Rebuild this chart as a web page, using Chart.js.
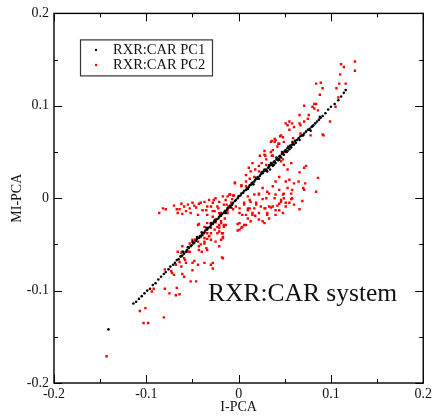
<!DOCTYPE html>
<html>
<head>
<meta charset="utf-8">
<title>RXR:CAR system</title>
<script src="https://cdn.jsdelivr.net/npm/chart.js@4.4.1/dist/chart.umd.min.js"></script>
<style>
  html, body { margin: 0; padding: 0; background: #fff; }
  canvas { display: block; }
</style>
</head>
<body>
<canvas id="pcaChart" width="435" height="418"></canvas>
<script>
// axis ticks
const xTickValues = [-0.2, -0.1, 0, 0.1, 0.2];
const xTickLabels = ['-0.2', '-0.1', '0', '0.1', '0.2'];
const yTickValues = [-0.2, -0.1, 0, 0.1, 0.2];
const yTickLabels = ['-0.2', '-0.1', '0', '0.1', '0.2'];
const minorTickValues = [-0.15, -0.05, 0.05, 0.15];

const seriesNames = ['RXR:CAR PC1', 'RXR:CAR PC2'];

// PC1 points [I-PCA, MI-PCA]
const pc1 = [
  [-0.141,-0.142],
  [-0.114,-0.114],[-0.111,-0.112],[-0.108,-0.109],[-0.105,-0.106],[-0.102,-0.103],[-0.099,-0.100],
  [-0.096,-0.098],[-0.093,-0.094],[-0.090,-0.092],[-0.087,-0.088],[-0.084,-0.085],[-0.081,-0.082],
  [-0.079,-0.080],[-0.076,-0.077],[-0.074,-0.074],[-0.071,-0.072],[-0.069,-0.070],[-0.067,-0.067],
  [-0.065,-0.066],[-0.063,-0.063],[-0.061,-0.062],[-0.059,-0.060],[-0.057,-0.058],[-0.056,-0.056],
  [-0.054,-0.054],[-0.052,-0.052],[-0.051,-0.051],[-0.049,-0.049],[-0.048,-0.048],[-0.046,-0.046],
  [-0.045,-0.044],[-0.043,-0.043],[-0.042,-0.041],[-0.040,-0.040],[-0.039,-0.038],[-0.037,-0.037],
  [-0.036,-0.035],[-0.034,-0.034],[-0.033,-0.032],[-0.031,-0.031],[-0.030,-0.029],[-0.028,-0.028],
  [-0.027,-0.026],[-0.025,-0.025],[-0.024,-0.023],[-0.022,-0.022],[-0.021,-0.020],[-0.019,-0.019],
  [-0.018,-0.017],[-0.016,-0.016],[-0.015,-0.014],[-0.013,-0.013],[-0.012,-0.011],[-0.010,-0.010],
  [-0.009,-0.008],[-0.007,-0.007],[-0.006,-0.005],[-0.004,-0.003],[-0.003,-0.002],[-0.001,0.000],
  [0.000,0.002],[0.002,0.003],[0.003,0.005],[0.005,0.006],[0.006,0.008],[0.008,0.009],
  [0.009,0.011],[0.011,0.012],[0.012,0.014],[0.014,0.015],[0.015,0.017],[0.017,0.018],
  [0.018,0.020],[0.020,0.021],[0.021,0.023],[0.023,0.024],[0.024,0.026],[0.026,0.027],
  [0.027,0.029],[0.029,0.030],[0.030,0.031],[0.032,0.033],[0.033,0.034],[0.035,0.036],
  [0.036,0.037],[0.038,0.039],[0.039,0.040],[0.041,0.042],[0.042,0.043],[0.044,0.045],
  [0.045,0.046],[0.047,0.048],[0.048,0.049],[0.050,0.051],[0.051,0.052],[0.053,0.054],
  [0.054,0.055],[0.056,0.057],[0.058,0.058],[0.059,0.060],[0.061,0.062],[0.063,0.063],
  [0.065,0.065],[0.067,0.067],[0.069,0.068],[0.071,0.070],[0.073,0.072],[0.075,0.074],
  [0.077,0.075],[0.079,0.077],[0.081,0.079],[0.083,0.081],[0.085,0.083],[0.087,0.085],
  [0.089,0.087],[0.091,0.089],[0.094,0.092],[0.097,0.096],[0.100,0.099],[0.104,0.102],
  [0.108,0.106],[0.111,0.110],[0.114,0.114],[0.116,0.117],
  [0.031,0.029],[0.034,0.031],[0.037,0.035],[0.040,0.038],[0.043,0.041],[0.046,0.044],
  [0.049,0.047],[0.052,0.050],[0.055,0.053],[0.025,0.028],[0.028,0.031],[-0.020,-0.018],
  [-0.030,-0.027],[-0.035,-0.032],[-0.045,-0.042],[-0.050,-0.047],[0.076,0.074],[0.078,0.073],
  [0.010,0.010],[0.016,0.015],[0.022,0.021],[0.019,0.022],[0.033,0.036],[0.038,0.036],
  [0.044,0.042],[0.047,0.050],[0.053,0.051],[0.057,0.055],[0.060,0.058],[0.062,0.060],
  [0.041,0.044],[0.035,0.038],[-0.008,-0.010],[-0.014,-0.016],[-0.026,-0.024],[-0.040,-0.037],
  [-0.055,-0.053],[-0.060,-0.058],[0.066,0.063],[0.070,0.068],[0.080,0.078],[0.088,0.088]
];

// PC2 points [I-PCA, MI-PCA]
const pc2 = [
  [0.126,0.148],[0.111,0.145],[0.114,0.142],[0.126,0.138],[0.110,0.134],[0.116,0.124],[0.109,0.124],
  [0.089,0.125],[0.084,0.124],[0.106,0.119],[0.091,0.119],[0.088,0.112],[0.108,0.109],[0.105,0.099],
  [0.099,0.083],[0.092,0.068],[0.091,0.069],[0.084,0.102],[0.082,0.102],[0.080,0.099],[0.082,0.097],
  [0.086,0.095],[0.071,0.100],[0.076,0.090],[0.066,0.090],[0.075,0.086],[0.071,0.083],[0.066,0.081],
  [0.055,0.083],[0.051,0.081],[0.053,0.079],[0.058,0.081],[0.060,0.077],[0.067,0.079],[0.055,0.074],
  [0.046,0.068],[0.040,0.063],[0.036,0.062],[0.049,0.061],[0.044,0.059],[0.067,0.070],[0.078,0.068],
  [0.058,0.061],
  [0.035,0.061],[0.039,0.061],[0.045,0.067],[0.043,0.059],[0.037,0.052],[0.028,0.051],[0.023,0.046],
  [0.029,0.046],[0.037,0.046],[0.015,0.038],[0.022,0.035],[0.025,0.038],[0.030,0.036],[0.011,0.033],
  [0.013,0.029],[0.018,0.031],[0.022,0.029],[0.008,0.025],[0.012,0.021],[0.017,0.023],[-0.004,0.017],
  [0.003,0.014],[0.008,0.013],[0.014,0.016],
  [0.066,0.028],[0.071,0.033],[0.073,0.035],[0.057,0.038],[0.049,0.036],[0.053,0.031],[0.044,0.023],
  [0.040,0.018],[0.051,0.018],[0.055,0.020],[0.060,0.016],[0.065,0.018],[0.072,0.016],[0.084,0.007],
  [0.086,0.022],[0.044,0.009],[0.049,0.005],[0.053,0.011],[0.057,0.005],[0.069,-0.003],[0.031,0.007],
  [0.037,0.013],[0.026,0.011],[0.022,0.004],[0.030,0.000],[0.039,0.000],[0.046,-0.002],[0.042,-0.008],
  [0.051,-0.009],[0.060,-0.007],[0.033,-0.009],[0.019,-0.005],[0.012,-0.002],[0.006,-0.005],
  [0.048,0.042],[0.046,0.040],[0.050,0.050],[0.054,0.056],[0.042,0.056],[0.035,0.050],[0.028,0.047],
  [0.030,0.042],[0.036,0.046],[0.048,0.066],[0.059,0.065],[0.039,0.064],[0.070,0.011],[0.058,0.009],
  [0.066,-0.012],[0.049,0.000],[0.057,-0.001],[0.051,-0.005],[0.044,-0.006],[0.048,-0.016],[0.040,-0.013],
  [0.040,-0.018],[0.031,-0.016],[0.035,-0.010],[0.028,-0.011],[0.022,-0.016],[0.017,-0.011],[0.015,-0.016],
  [0.010,-0.013],[0.026,-0.025],[0.022,-0.023],[0.018,-0.019],[0.013,-0.025],[0.010,-0.022],[0.008,-0.029],
  [0.003,-0.032],[-0.001,-0.035],[0.004,-0.018],[0.001,-0.011],
  [0.001,-0.016],[0.008,-0.018],[0.010,0.002],[0.012,-0.011],[0.013,-0.004],[0.015,-0.018],[0.017,0.004],
  [0.019,-0.007],[0.022,0.005],[0.024,-0.009],[0.026,-0.001],[0.029,-0.011],[0.031,-0.018],[0.033,0.005],
  [0.033,-0.022],[0.037,-0.009],[0.040,0.004],[0.044,-0.013],[0.046,-0.004],[0.048,0.004],[0.055,-0.005],
  [0.058,0.000],[0.071,0.009],[0.028,-0.027],[0.001,-0.034],[0.006,-0.029],[-0.014,-0.029],[-0.017,-0.038],
  [-0.019,-0.045],
  [-0.086,-0.016],[-0.082,-0.011],[-0.079,-0.012],[-0.070,-0.008],[-0.066,-0.016],[-0.062,-0.006],
  [-0.061,-0.017],[-0.057,-0.014],[-0.055,-0.007],[-0.053,-0.011],[-0.052,-0.016],[-0.050,-0.005],
  [-0.046,-0.010],[-0.044,-0.018],[-0.043,-0.006],[-0.039,-0.013],[-0.037,-0.004],[-0.034,-0.009],
  [-0.032,-0.002],[-0.028,-0.005],[-0.026,-0.014],[-0.025,0.000],[-0.023,-0.009],[-0.021,-0.004],
  [-0.019,-0.016],[-0.017,0.002],[-0.016,-0.007],[-0.014,-0.002],[-0.012,-0.013],[-0.010,0.004],
  [-0.008,-0.005],[-0.007,-0.001],[-0.005,0.003],[-0.003,-0.009],[-0.004,0.016],[0.003,0.013],
  [0.008,0.018],[0.006,-0.007],[0.010,-0.011],[0.001,-0.027],[0.004,-0.031],[-0.019,-0.027],
  [-0.021,-0.032],[-0.016,-0.031],[-0.025,-0.023],[-0.026,-0.034],[-0.030,-0.038],[-0.023,-0.038],
  [-0.032,-0.041],[-0.017,-0.042],[-0.043,-0.028],[-0.037,-0.043],
  [-0.067,-0.012],[-0.064,-0.012],[-0.059,-0.009],[-0.048,-0.008],[-0.041,-0.005],[-0.035,-0.013],
  [-0.030,-0.009],[-0.027,-0.002],[-0.022,-0.011],[-0.028,-0.014],[-0.034,-0.018],[-0.028,-0.020],
  [-0.021,-0.016],[-0.012,0.002],[-0.009,0.004],[-0.006,0.003],[-0.013,-0.007],[-0.011,-0.009],
  [-0.006,-0.012],[-0.012,-0.016],[-0.015,-0.022],[-0.019,-0.025],[-0.023,-0.031],[-0.025,-0.026],
  [-0.021,-0.036],
  [-0.044,-0.029],[-0.037,-0.031],[-0.034,-0.027],[-0.030,-0.032],[-0.021,-0.029],[-0.016,-0.029],
  [-0.039,-0.040],[-0.034,-0.038],[-0.032,-0.041],[-0.030,-0.045],[-0.037,-0.049],[-0.041,-0.050],
  [-0.044,-0.047],[-0.050,-0.045],[-0.053,-0.049],[-0.025,-0.047],[-0.021,-0.052],[-0.017,-0.043],
  [-0.018,-0.038],[-0.034,-0.056],[-0.043,-0.056],[-0.053,-0.058],[-0.061,-0.058],[-0.066,-0.058],
  [-0.062,-0.063],[-0.059,-0.065],[-0.064,-0.069],[-0.068,-0.072],[-0.062,-0.074],[-0.057,-0.070],
  [-0.050,-0.070],[-0.044,-0.072],[-0.037,-0.070],[-0.028,-0.070],[-0.028,-0.076],[-0.050,-0.078],
  [-0.059,-0.085],[-0.061,-0.082],[-0.070,-0.083],[-0.073,-0.079],[-0.017,-0.065],[-0.052,-0.090],
  [-0.046,-0.090],[-0.080,-0.098],[-0.075,-0.103],[-0.068,-0.105],[-0.064,-0.104],[-0.092,-0.098],
  [-0.094,-0.101],[-0.072,-0.081],[-0.080,-0.077],[-0.035,-0.054],[-0.040,-0.058],[-0.055,-0.058],
  [-0.061,-0.052],[-0.062,-0.059],[-0.058,-0.067],[-0.048,-0.068],[-0.030,-0.072],[-0.018,-0.064],
  [-0.001,-0.028],[-0.038,-0.038],[-0.041,-0.042],[-0.034,-0.044],[-0.037,-0.047],[-0.043,-0.052],
  [-0.047,-0.045],
  [-0.107,-0.122],[-0.101,-0.119],[-0.103,-0.135],[-0.098,-0.135],[-0.081,-0.129],[-0.143,-0.171],
  [-0.067,-0.097]
];

const serif = '"Liberation Serif", "DejaVu Serif", serif';

const toXY = arr => arr.map(p => ({ x: p[0], y: p[1] }));

// frame, inward ticks, legend box and the caption
const decor = {
  id: 'decor',
  afterDraw(chart) {
    const { ctx, chartArea: a, scales } = chart;
    ctx.save();
    ctx.strokeStyle = '#000';
    ctx.lineWidth = 1;
    const tick = (vals, len) => {
      vals.forEach(v => {
        const px = Math.round(scales.x.getPixelForValue(v)) + 0.5;
        const py = Math.round(scales.y.getPixelForValue(v)) + 0.5;
        ctx.beginPath();
        ctx.moveTo(px, a.bottom); ctx.lineTo(px, a.bottom - len);
        ctx.moveTo(px, a.top); ctx.lineTo(px, a.top + len);
        ctx.moveTo(a.left, py); ctx.lineTo(a.left + len, py);
        ctx.moveTo(a.right, py); ctx.lineTo(a.right - len, py);
        ctx.stroke();
      });
    };
    tick(xTickValues, 8);
    tick(minorTickValues, 4);
    ctx.lineWidth = 1.4;
    ctx.strokeRect(a.left, a.top, a.right - a.left, a.bottom - a.top);

    // legend
    const lx = a.left + 26, ly = a.top + 26;
    ctx.lineWidth = 1.2;
    ctx.strokeStyle = '#333';
    ctx.strokeRect(lx + 0.5, ly + 0.5, 132, 36);
    ctx.fillStyle = '#000';
    ctx.beginPath(); ctx.arc(lx + 16, ly + 10.5, 1.2, 0, Math.PI * 2); ctx.fill();
    ctx.fillStyle = '#f00';
    ctx.fillRect(lx + 15, ly + 24.5, 2.2, 2.2);
    ctx.fillStyle = '#111';
    ctx.font = '14.5px ' + serif;
    ctx.textBaseline = 'middle';
    ctx.fillText(seriesNames[0], lx + 33, ly + 11);
    ctx.fillText(seriesNames[1], lx + 33, ly + 26);

    ctx.font = '25.5px ' + serif;
    ctx.textBaseline = 'alphabetic';
    ctx.fillText('RXR:CAR system', a.left + 154, a.top + 288);
    ctx.restore();
  }
};

new Chart(document.getElementById('pcaChart'), {
  type: 'scatter',
  data: {
    datasets: [
      {
        label: seriesNames[0],
        data: toXY(pc1),
        pointStyle: 'circle',
        pointRadius: 1.3,
        pointBorderWidth: 0,
        backgroundColor: '#000',
        borderColor: '#000'
      },
      {
        label: seriesNames[1],
        data: toXY(pc2),
        pointStyle: 'rect',
        pointRadius: 1.7,
        pointBorderWidth: 0,
        backgroundColor: '#ff0000',
        borderColor: '#ff0000'
      }
    ]
  },
  options: {
    responsive: false,
    animation: false,
    layout: { padding: { top: 13, right: 11, left: 0, bottom: 0 } },
    plugins: {
      legend: { display: false },
      tooltip: { enabled: false }
    },
    scales: {
      x: {
        type: 'linear',
        min: -0.2, max: 0.2,
        afterFit: s => { s.height = 35; },
        afterBuildTicks: s => { s.ticks = xTickValues.map(v => ({ value: v })); },
        grid: { display: false, drawTicks: false },
        border: { display: false },
        ticks: {
          padding: 3,
          color: '#111',
          font: { family: serif, size: 14 },
          maxRotation: 0,
          callback: (v, i) => xTickLabels[i]
        },
        title: {
          display: true,
          text: 'I-PCA',
          color: '#111',
          font: { family: serif, size: 14 },
          padding: { top: 0, bottom: 2 }
        }
      },
      y: {
        type: 'linear',
        min: -0.2, max: 0.2,
        afterFit: s => { s.width = 54; },
        afterBuildTicks: s => { s.ticks = yTickValues.map(v => ({ value: v })); },
        grid: { display: false, drawTicks: false },
        border: { display: false },
        ticks: {
          padding: 5,
          color: '#111',
          font: { family: serif, size: 14 },
          callback: (v, i) => yTickLabels[i]
        },
        title: {
          display: true,
          text: 'MI-PCA',
          color: '#111',
          font: { family: serif, size: 14 },
          padding: { top: 9, bottom: 0 }
        }
      }
    }
  },
  plugins: [decor]
});
</script>
</body>
</html>
